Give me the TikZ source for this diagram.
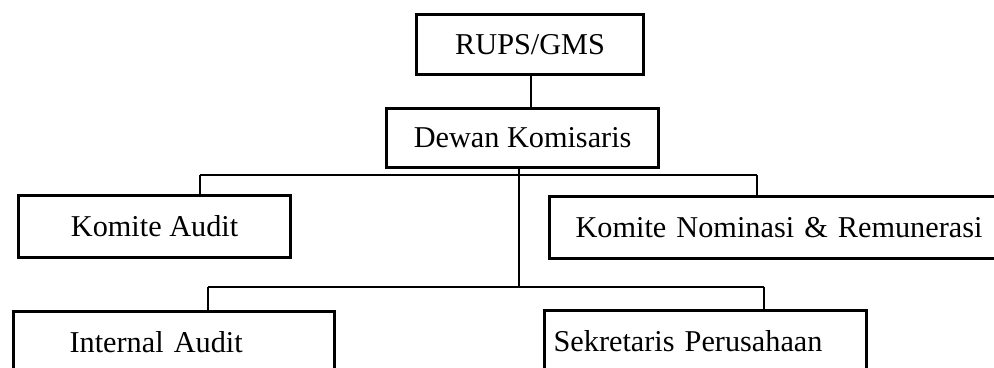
\documentclass[tikz,border=0pt]{standalone}
\usepackage{fontspec}
\setmainfont{Liberation Serif}
\usepackage{tikz}
\usetikzlibrary{positioning}
\tikzset{unit/.style={draw,line width=2.4pt,minimum height=46.5pt,inner sep=0pt,font=\fontsize{22.7}{27}\selectfont}}
\tikzset{link/.style={line width=1.5pt}}

\begin{document}
\begin{tikzpicture}[x=0.75pt,y=-0.75pt]
            \useasboundingbox (0,0) rectangle (994,367);
            \clip (0,0) rectangle (994,367);
            \node[unit,minimum width=170.25pt,minimum height=45pt,anchor=north west] (rups) at (415,13) {RUPS/GMS};
            \node[unit,minimum width=204pt,minimum height=44.25pt,anchor=north west] (dewan) at (385,107) {Dewan Komisaris};
            \node[unit,minimum width=204pt,anchor=north west] (ka) at (17,194) {Komite Audit};
            \node[unit,text width=307.5pt,inner xsep=19.5pt,align=left,anchor=north west] (knr) at (548,195) {Komite Nominasi \& Remunerasi};
            \node[unit,text width=156.75pt,inner xsep=42pt,align=left,anchor=north west] (ia) at (12,310) {Internal Audit};
            \node[unit,text width=228pt,inner xsep=6.75pt,align=left,anchor=north west] (sp) at (543,309) {Sekretaris Perusahaan};
            \coordinate (hubA) at (519,175);
            \coordinate (hubB) at (519,287);
            \coordinate (kaDrop) at (200,175);
            \coordinate (knrDrop) at (757,175);
            \coordinate (iaDrop) at (208,287);
            \coordinate (spDrop) at (764,287);
            \draw[link] (dewan.north -| rups.south) ++(1,0) coordinate (up) -- (up |- rups.south);
            \draw[link] (dewan.south -| hubA) -- (hubB);
            \draw[link] (kaDrop) -- (knrDrop);
            \draw[link] (iaDrop) -- (spDrop);
            \draw[link] (kaDrop) -- (kaDrop |- ka.north);
            \draw[link] (knrDrop) -- (knrDrop |- knr.north);
            \draw[link] (iaDrop) -- (iaDrop |- ia.north);
            \draw[link] (spDrop) -- (spDrop |- sp.north);
        \end{tikzpicture}
\end{document}
